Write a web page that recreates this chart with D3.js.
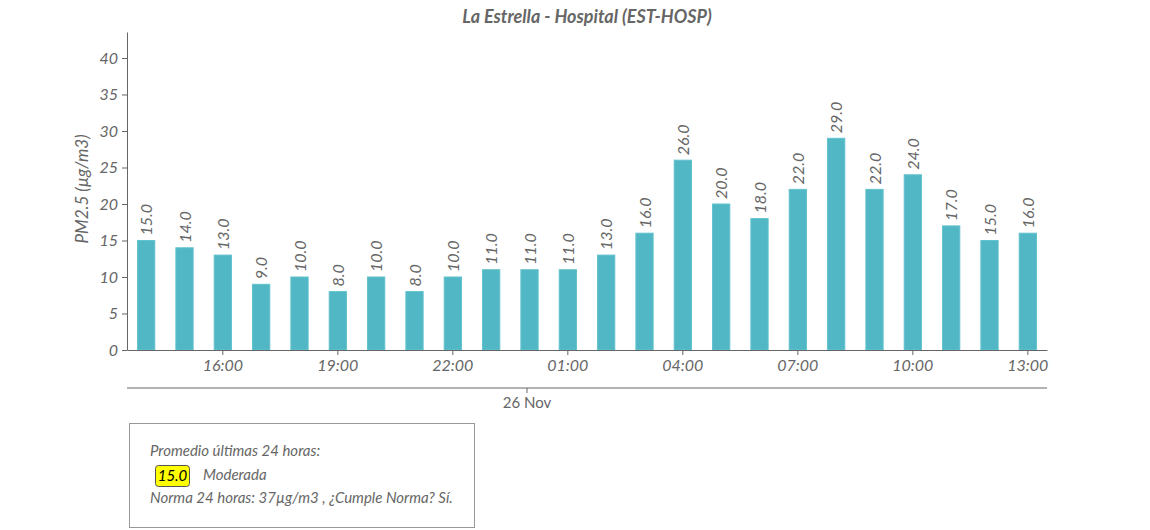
<!DOCTYPE html>
<html><head><meta charset="utf-8">
<script src="https://cdn.jsdelivr.net/npm/d3@7"></script>
<style>
body{margin:0;background:#fff;font-family:Lato,"Open Sans",sans-serif;}
</style></head>
<body><svg id="c" width="1150" height="530"></svg>
<script>
const hours = ["14:00","15:00","16:00","17:00","18:00","19:00","20:00","21:00","22:00","23:00","00:00","01:00","02:00","03:00","04:00","05:00","06:00","07:00","08:00","09:00","10:00","11:00","12:00","13:00"];
const values = [15,14,13,9,10,8,10,8,10,11,11,11,13,16,26,20,18,22,29,22,24,17,15,16];
const tickLabels = ["16:00","19:00","22:00","01:00","04:00","07:00","10:00","13:00"];
const yTicks = [0,5,10,15,20,25,30,35,40];
const dayLabel = "26 Nov";
const dayHour = "00:00";
const title = "La Estrella - Hospital (EST-HOSP)";
const yTitle = "PM2.5 (\u00b5g/m3)";
const infoLines = ["Promedio \u00faltimas 24 horas:", "Moderada", "Norma 24 horas: 37\u00b5g/m3 , \u00bfCumple Norma? S\u00ed."];
const avgValue = "15.0";

const svg = d3.select("#c");
const grey = "#666";
const pLeft = 127, pRight = 1047, pTop = 32, pBottom = 350;
const x = d3.scaleBand().domain(hours).range([pLeft, pRight]).paddingInner(0.55).paddingOuter(0.275);
const y = d3.scaleLinear().domain([0, 43.56]).range([pBottom, pTop]);

// title
svg.append("text").attr("x", 587).attr("y", 23).attr("text-anchor","middle")
  .attr("font-size", 18).attr("font-weight","bold").attr("font-style","italic").attr("fill", grey).text(title);

// bars
svg.append("g").selectAll("rect").data(values).join("rect")
  .attr("x", (d,i)=>x(hours[i])).attr("width", x.bandwidth())
  .attr("y", d=>y(d)).attr("height", d=>y(0)-y(d))
  .attr("fill", "#52b7c4").attr("stroke","#62c2cd").attr("stroke-width",1);

// value labels
svg.append("g").selectAll("text").data(values).join("text")
  .attr("transform", (d,i)=>`translate(${x(hours[i])+x.bandwidth()/2+6},${y(d)-5}) rotate(-90)`)
  .attr("font-size", 16).attr("font-style","italic").attr("fill", grey)
  .text(d=>d.toFixed(1));

// y axis
const ya = svg.append("g").attr("transform", `translate(${pLeft},0)`)
  .call(d3.axisLeft(y).tickValues(yTicks).tickSize(5).tickSizeOuter(0));
ya.select(".domain").attr("stroke", grey);
ya.selectAll(".tick line").attr("stroke", grey);
ya.selectAll(".tick text").attr("font-size", 16).attr("font-style","italic").attr("fill", grey)
  .attr("font-family","Lato,sans-serif").attr("x", -9);

svg.append("text").attr("transform", "translate(88,189) rotate(-90)").attr("text-anchor","middle")
  .attr("font-size", 17).attr("font-style","italic").attr("fill", grey).text(yTitle);

// x axis
const xa = svg.append("g").attr("transform", `translate(0,${pBottom})`)
  .call(d3.axisBottom(x).tickValues(tickLabels).tickSize(5).tickSizeOuter(0));
xa.select(".domain").attr("stroke", grey);
xa.selectAll(".tick line").attr("stroke", grey);
xa.selectAll(".tick text").attr("font-size", 16).attr("font-style","italic").attr("fill", grey)
  .attr("font-family","Lato,sans-serif").attr("y", 10);

// secondary day axis
const dayX = x(dayHour)+x.bandwidth()/2 - 3;
const x2 = d3.scalePoint().domain([dayLabel]).range([dayX, dayX]);
const xa2 = svg.append("g").attr("transform", `translate(0,388)`);
xa2.append("line").attr("x1", pLeft).attr("x2", pRight).attr("stroke", grey);
const d2 = xa2.append("g").call(d3.axisBottom(x2).tickSize(5).tickSizeOuter(0));
d2.select(".domain").remove();
d2.selectAll(".tick line").attr("stroke", grey);
d2.selectAll(".tick text").attr("font-size", 15).attr("fill", grey).attr("font-family","Lato,sans-serif").attr("y", 9);

// info box
const box = svg.append("g");
box.append("rect").attr("x", 129.5).attr("y", 423.5).attr("width", 345).attr("height", 104)
  .attr("fill", "#fff").attr("stroke", "#999");
box.append("text").attr("x", 150).attr("y", 456).attr("font-size", 15).attr("font-style","italic").attr("fill", grey).text(infoLines[0]);
box.append("rect").attr("x", 155.5).attr("y", 465.5).attr("width", 34).attr("height", 21).attr("rx", 3)
  .attr("fill", "#ffff00").attr("stroke", "#555");
box.append("text").attr("x", 172.5).attr("y", 481).attr("text-anchor","middle").attr("font-size", 15).attr("font-style","italic").attr("fill", "#000").text(avgValue);
box.append("text").attr("x", 203).attr("y", 480).attr("font-size", 15).attr("font-style","italic").attr("fill", grey).text(infoLines[1]);
box.append("text").attr("x", 150).attr("y", 503).attr("font-size", 15).attr("font-style","italic").attr("fill", grey).text(infoLines[2]);
</script></body></html>
